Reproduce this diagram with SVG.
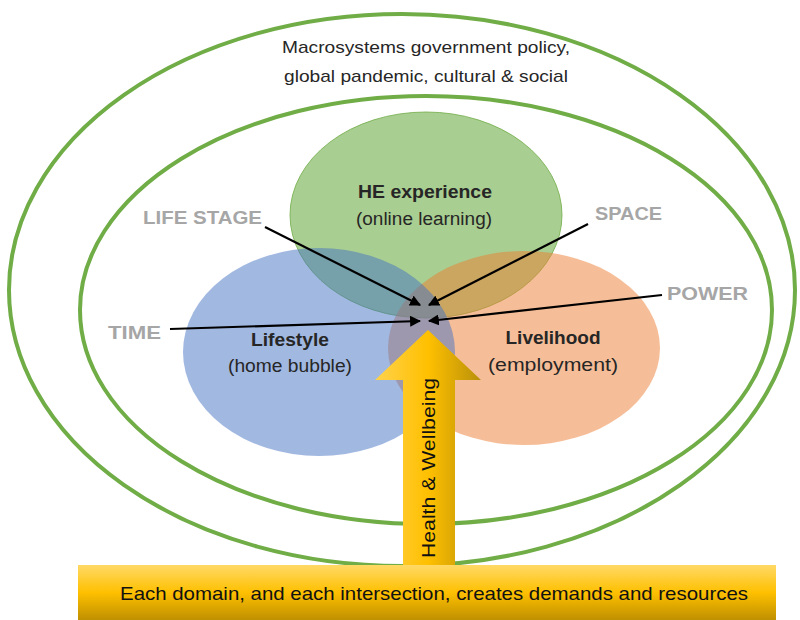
<svg xmlns="http://www.w3.org/2000/svg" width="800" height="620" viewBox="0 0 800 620">
<defs>
<style>
.t{font-family:"Liberation Sans",Arial,sans-serif;fill:#262626}
.b{font-weight:bold}
.g{font-family:"Liberation Sans",Arial,sans-serif;fill:#a6a6a6;font-size:19px;font-weight:bold}
.ring{fill:none;stroke:#70ad47;stroke-width:4}
.arr{stroke:#000;stroke-width:2.2;fill:none;marker-end:url(#ah)}
</style>
<marker id="ah" viewBox="0 0 10 10" refX="9" refY="5" markerWidth="5" markerHeight="5" orient="auto" markerUnits="strokeWidth">
<path d="M0,0 L10,5 L0,10 z" fill="#000"/>
</marker>
<linearGradient id="shaft" x1="0" y1="0" x2="1" y2="0">
<stop offset="0" stop-color="#ffd24d"/>
<stop offset="0.5" stop-color="#ffc000"/>
<stop offset="1" stop-color="#b8900a"/>
</linearGradient>
<linearGradient id="bar" x1="0" y1="0" x2="0" y2="1">
<stop offset="0" stop-color="#ffd966"/>
<stop offset="0.5" stop-color="#ffc000"/>
<stop offset="1" stop-color="#bf9000"/>
</linearGradient>
</defs>
<rect width="800" height="620" fill="#fff"/>
<g id="macro">
<ellipse class="ring" cx="402" cy="290" rx="393" ry="276"/>
<text class="t" x="426" y="53" font-size="17" text-anchor="middle" textLength="288" lengthAdjust="spacingAndGlyphs">Macrosystems government policy,</text>
<text class="t" x="426" y="82" font-size="17" text-anchor="middle" textLength="284" lengthAdjust="spacingAndGlyphs">global pandemic, cultural &amp; social</text>
</g>
<g id="inner">
<ellipse class="ring" cx="426" cy="310" rx="346" ry="214"/>
</g>
<g id="he">
<ellipse cx="426" cy="215" rx="136" ry="103" fill="#70ad47" fill-opacity="0.6" stroke="#70ad47" stroke-opacity="0.8" stroke-width="1"/>
</g>
<g id="livelihood">
<ellipse cx="524" cy="348" rx="136" ry="97" fill="#ed7d31" fill-opacity="0.5"/>
</g>
<g id="lifestyle">
<ellipse cx="319" cy="352" rx="136" ry="104" fill="#4472c4" fill-opacity="0.5"/>
</g>
<g id="labels">
<text class="t b" x="425" y="198" font-size="18" text-anchor="middle" textLength="134" lengthAdjust="spacingAndGlyphs">HE experience</text>
<text class="t" x="424" y="225" font-size="18" text-anchor="middle" textLength="136" lengthAdjust="spacingAndGlyphs">(online learning)</text>
<text class="t b" x="290" y="346" font-size="18" text-anchor="middle" textLength="78" lengthAdjust="spacingAndGlyphs">Lifestyle</text>
<text class="t" x="290" y="372" font-size="18" text-anchor="middle" textLength="124" lengthAdjust="spacingAndGlyphs">(home bubble)</text>
<text class="t b" x="553" y="344" font-size="18" text-anchor="middle" textLength="95" lengthAdjust="spacingAndGlyphs">Livelihood</text>
<text class="t" x="553" y="371" font-size="18" text-anchor="middle" textLength="130" lengthAdjust="spacingAndGlyphs">(employment)</text>
</g>
<g id="factors">
<text class="g" x="143" y="224" textLength="119" lengthAdjust="spacingAndGlyphs">LIFE STAGE</text>
<text class="g" x="595" y="220" textLength="67" lengthAdjust="spacingAndGlyphs">SPACE</text>
<text class="g" x="667" y="300" textLength="81" lengthAdjust="spacingAndGlyphs">POWER</text>
<text class="g" x="108" y="339" textLength="53" lengthAdjust="spacingAndGlyphs">TIME</text>
</g>
<g id="connectors">
<line class="arr" x1="265" y1="227" x2="420" y2="305"/>
<line class="arr" x1="588" y1="224" x2="429" y2="305"/>
<line class="arr" x1="170" y1="329" x2="420" y2="321"/>
<line class="arr" x1="662" y1="295" x2="429" y2="321"/>
</g>
<g id="health">
<path d="M403,565 L403,380 L375,380 L428,330 L481,380 L455,380 L455,565 Z" fill="url(#shaft)"/>
<text class="t" transform="translate(435,468) rotate(-90)" font-size="18" text-anchor="middle" textLength="180" lengthAdjust="spacingAndGlyphs" style="fill:#111">Health &amp; Wellbeing</text>
</g>
<g id="bar-node">
<rect x="78" y="565" width="698" height="55" fill="url(#bar)"/>
<text class="t" x="434" y="600" font-size="19" text-anchor="middle" textLength="628" lengthAdjust="spacingAndGlyphs" style="fill:#111">Each domain, and each intersection, creates demands and resources</text>
</g>
</svg>
